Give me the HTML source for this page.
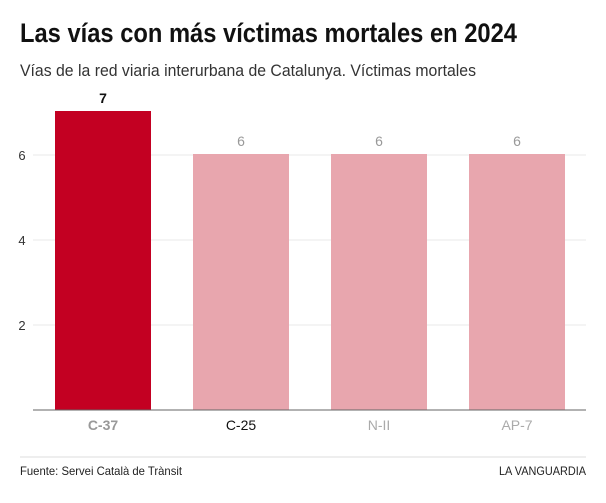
<!DOCTYPE html>
<html><head><meta charset="utf-8"><style>
body{margin:0;width:606px;height:498px;background:#fff;font-family:"Liberation Sans",sans-serif;overflow:hidden}
</style></head><body>
<svg width="606" height="498" xmlns="http://www.w3.org/2000/svg" font-family="Liberation Sans, sans-serif">
<text x="20" y="42" font-size="27" font-weight="bold" fill="#111" textLength="497" lengthAdjust="spacingAndGlyphs">Las vías con más víctimas mortales en 2024</text>
<text x="20" y="76" font-size="17" fill="#333" textLength="456" lengthAdjust="spacingAndGlyphs">Vías de la red viaria interurbana de Catalunya. Víctimas mortales</text>
<g stroke="#e8e8e8" stroke-width="1">
<line x1="33" y1="155" x2="586" y2="155"/><line x1="33" y1="240" x2="586" y2="240"/><line x1="33" y1="325" x2="586" y2="325"/>
</g>
<g font-size="13" fill="#333" text-anchor="middle">
<text x="22" y="160">6</text><text x="22" y="245">4</text><text x="22" y="330">2</text>
</g>
<rect x="55" y="111" width="96" height="299" fill="#c30022"/>
<rect x="193" y="154" width="96" height="256" fill="#e8a6ae"/>
<rect x="331" y="154" width="96" height="256" fill="#e8a6ae"/>
<rect x="469" y="154" width="96" height="256" fill="#e8a6ae"/>
<line x1="33" y1="410" x2="586" y2="410" stroke="#666" stroke-width="1"/>
<text x="103" y="103" font-size="14" font-weight="bold" fill="#111" text-anchor="middle">7</text>
<g font-size="14" fill="#999" text-anchor="middle">
<text x="241" y="146">6</text><text x="379" y="146">6</text><text x="517" y="146">6</text>
</g>
<text x="103" y="430" font-size="14" font-weight="bold" fill="#999" text-anchor="middle">C-37</text>
<text x="241" y="430" font-size="14" fill="#111" text-anchor="middle">C-25</text>
<text x="379" y="430" font-size="14" fill="#aaa" text-anchor="middle">N-II</text>
<text x="517" y="430" font-size="14" fill="#aaa" text-anchor="middle">AP-7</text>
<line x1="20" y1="457" x2="586" y2="457" stroke="#ddd"/>
<text x="20" y="475" font-size="12" fill="#222" textLength="162" lengthAdjust="spacingAndGlyphs">Fuente: Servei Català de Trànsit</text>
<text x="586" y="475" font-size="12" fill="#222" text-anchor="end" textLength="87" lengthAdjust="spacingAndGlyphs">LA VANGUARDIA</text>
</svg>
</body></html>
